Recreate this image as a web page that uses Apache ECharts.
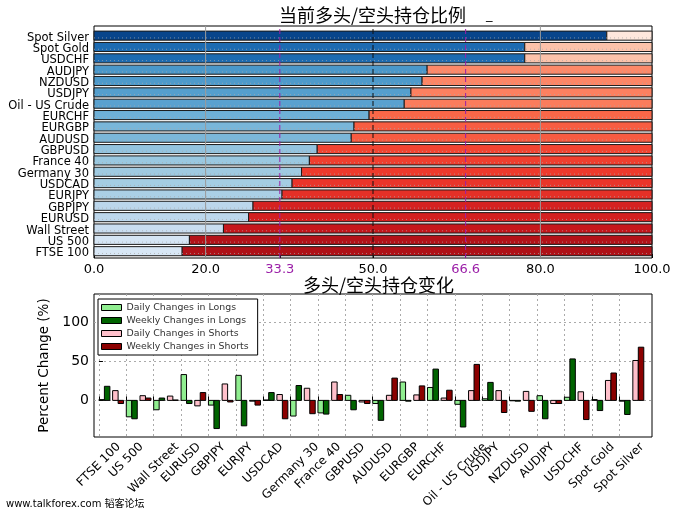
<!DOCTYPE html>
<html><head><meta charset="utf-8">
<script src="https://cdn.jsdelivr.net/npm/echarts@6/dist/echarts.min.js"></script>
<style>html,body{margin:0;padding:0;background:#fff}#c{width:680px;height:515px}</style>
</head><body><div id="c"></div>
<script>
// ---- data ----
const ratioCategories = ['FTSE 100','US 500','Wall Street','EURUSD','GBPJPY','EURJPY','USDCAD','Germany 30','France 40','GBPUSD','AUDUSD','EURGBP','EURCHF','Oil - US Crude','USDJPY','NZDUSD','AUDJPY','USDCHF','Spot Gold','Spot Silver'];
const longPct  = [15.8,17.1,23.2,27.7,28.5,33.7,35.5,37.2,38.6,40.0,46.1,46.6,49.3,55.6,56.8,58.8,59.7,77.2,77.2,91.9];
const shortPct = [84.2,82.9,76.8,72.3,71.5,66.3,64.5,62.8,61.4,60.0,53.9,53.4,50.7,44.4,43.2,41.2,40.3,22.8,22.8,8.1];
const ratioTickLabels = [0, 20, 33.3, 50, 66.6, 80, 100];

const changeCategories = ['FTSE 100','US 500','Wall Street','EURUSD','GBPJPY','EURJPY','USDCAD','Germany 30','France 40','GBPUSD','AUDUSD','EURGBP','EURCHF','Oil - US Crude','USDJPY','NZDUSD','AUDJPY','USDCHF','Spot Gold','Spot Silver'];
const dailyLongs   = [1, -21, -12, 33, -6, 32, 0.5, -20, -16, 6.5, -4, 23.5, 16.5, -5, 2, -0.5, 6, 4, 1, -1];
const weeklyLongs  = [18, -23.5, 3, -4, -36, -32.5, 10, 19, -17.5, -12, -25.5, -1, 40, -34, 23, -1, -23.5, 53, -13, -18];
const dailyShorts  = [12.5, 6, 5.5, -7, 21, -1, 7.5, 15.5, 23.5, -2, 6.5, 7, 3, 12.5, 12.5, 11.5, -4, 11, 25.5, 51];
const weeklyShorts = [-4, 3, 0.5, 10, -2, -6, -23.5, -17, 7.5, -4, 28.5, 18.5, 13, 46, -15.5, -14, -4, -24.5, 35, 68];
const changeTickLabels = [0, 50, 100];

// ---- styling helpers ----
const BLUES = ['#f7fbff','#deebf7','#c6dbef','#9ecae1','#6baed6','#4292c6','#2171b5','#08519c','#08306b'];
const REDS  = ['#fff5f0','#fee0d2','#fcbba1','#fc9272','#fb6a4a','#ef3b2c','#cb181d','#a50f15','#67000d'];
function hex2rgb(h){return [parseInt(h.substr(1,2),16),parseInt(h.substr(3,2),16),parseInt(h.substr(5,2),16)];}
function cmap(stops,t){
  t=Math.max(0,Math.min(1,t));
  const p=t*(stops.length-1), k=Math.min(Math.floor(p),stops.length-2), f=p-k;
  const a=hex2rgb(stops[k]), b=hex2rgb(stops[k+1]);
  return 'rgb('+a.map((v,j)=>Math.round(v+(b[j]-v)*f)).join(',')+')';
}
const FONT='"DejaVu Sans", sans-serif';
const CJK='"Noto Sans CJK SC", sans-serif';

// bottom chart geometry
const G2 = {left:94, right:28, top:294, bottom:78};
const X2_MIN=-0.18, X2_MAX=20.2;
const unitPx=(680-G2.left-G2.right)/(X2_MAX-X2_MIN);
const LABEL_FS=12;
const mctx=document.createElement('canvas').getContext('2d');
mctx.font=LABEL_FS+'px "DejaVu Sans"';
const labelPos=changeCategories.map((c,i)=>i+mctx.measureText(c).width*0.3536/unitPx);
function nearestIdx(arr,v){let b=0,d=1e9;arr.forEach((a,i)=>{const e=Math.abs(a-v);if(e<d){d=e;b=i;}});return b;}

// top chart: label slots, with empty guard slots at both ends
const Y1_MAX=20.45;
const ratioLabelPos=ratioCategories.map((c,i)=>i+0.42);
const ratioLabelSlots=[0.01].concat(ratioLabelPos,[Y1_MAX-0.01]);
const ratioLabelText=[''].concat(ratioCategories,['']);
const ratioTickPos=ratioCategories.map((c,i)=>i+0.4);

const chart=echarts.init(document.getElementById('c'),null,{renderer:'canvas'});

function changeSeries(name,data,offset,color){
  return {
    type:'custom', name, xAxisIndex:1, yAxisIndex:1,
    itemStyle:{color, borderColor:'#000', borderWidth:1},
    data:data.map((v,i)=>[i,v]),
    encode:{x:0,y:1},
    renderItem(params,api){
      const i=api.value(0), v=api.value(1);
      const p0=api.coord([i+offset,0]), p1=api.coord([i+offset+0.2,v]);
      return {type:'rect',
        shape:{x:p0[0],y:Math.min(p0[1],p1[1]),width:p1[0]-p0[0],height:Math.abs(p1[1]-p0[1])},
        style:{fill:color,stroke:'#000',lineWidth:1}};
    }
  };
}

const vLines=[{x:20,c:'#9a9a9a',d:'solid'},{x:80,c:'#9a9a9a',d:'solid'},{x:50,c:'#111',d:[5,3]},{x:33.3,c:'#9b1fa8',d:[5,3]},{x:66.6,c:'#9b1fa8',d:[5,3]}];

const option={
  animation:false,
  backgroundColor:'#fff',
  title:[
    {text:'当前多头/空头持仓比例', left:279, top:6, padding:0, textStyle:{fontFamily:CJK,fontSize:18,fontWeight:'normal',color:'#000'}},
    {text:'多头/空头持仓变化', left:303, top:276, padding:0, textStyle:{fontFamily:CJK,fontSize:18,fontWeight:'normal',color:'#000'}}
  ],
  graphic:[
    {type:'text', left:486, top:9, style:{text:'_', font:'13px '+FONT, fill:'#000'}},
    {type:'text', left:6, top:499, style:{text:'www.talkforex.com 韬客论坛', font:'10px "DejaVu Sans","Noto Sans CJK SC",sans-serif', fill:'#000'}}
  ],
  legend:{
    orient:'vertical', left:98, top:299, padding:[3,9,3,3], itemGap:2,
    itemWidth:20, itemHeight:6, backgroundColor:'#fff', borderColor:'#000', borderWidth:1, borderRadius:0,
    textStyle:{fontFamily:FONT,fontSize:9.4,color:'#333',lineHeight:11},
    data:[
      {name:'Daily Changes in Longs', icon:'rect', itemStyle:{color:'#90ee90',borderColor:'#000',borderWidth:1}},
      {name:'Weekly Changes in Longs', icon:'rect', itemStyle:{color:'#006400',borderColor:'#000',borderWidth:1}},
      {name:'Daily Changes in Shorts', icon:'rect', itemStyle:{color:'#ffc0cb',borderColor:'#000',borderWidth:1}},
      {name:'Weekly Changes in Shorts', icon:'rect', itemStyle:{color:'#8b0000',borderColor:'#000',borderWidth:1}}
    ]
  },
  grid:[
    {left:94, right:28, top:26, bottom:257, show:true, borderColor:'#000', borderWidth:1, backgroundColor:'#fff'},
    {left:G2.left, right:G2.right, top:G2.top, bottom:G2.bottom, show:true, borderColor:'#000', borderWidth:1, backgroundColor:'#fff'}
  ],
  xAxis:[
    {type:'value', gridIndex:0, min:0, max:100,
      axisLine:{show:false}, splitLine:{show:false},
      axisTick:{show:true, inside:true, length:4, customValues:ratioTickLabels, lineStyle:{color:'#000'}},
      axisLabel:{customValues:ratioTickLabels, showMinLabel:true, showMaxLabel:true, hideOverlap:false, margin:5, fontFamily:FONT, fontSize:13, color:'#000',
        formatter:v=>{const s=v.toFixed(1);return (Math.abs(v-33.3)<1e-6||Math.abs(v-66.6)<1e-6)?'{p|'+s+'}':s;},
        rich:{p:{color:'#9b1fa8',fontFamily:FONT,fontSize:13}}}},
    {type:'value', gridIndex:1, min:X2_MIN, max:X2_MAX,
      axisLine:{show:false},
      splitLine:{show:true, lineStyle:{color:'#aaa', type:[2,3], width:1}},
      axisTick:{show:true, inside:true, length:4, customValues:changeCategories.map((c,i)=>i), lineStyle:{color:'#000'}},
      axisLabel:{customValues:labelPos, showMinLabel:true, showMaxLabel:true, hideOverlap:false, rotate:45, margin:8, fontFamily:FONT, fontSize:LABEL_FS, color:'#000',
        formatter:v=>changeCategories[nearestIdx(labelPos,v)]}}
  ],
  yAxis:[
    {type:'value', gridIndex:0, min:0, max:Y1_MAX,
      axisLine:{show:false}, splitLine:{show:false},
      axisTick:{show:true, inside:true, length:4, customValues:ratioTickPos, lineStyle:{color:'#000'}},
      axisLabel:{customValues:ratioLabelSlots, hideOverlap:false, margin:5, fontFamily:FONT, fontSize:11.5, color:'#000',
        formatter:v=>ratioLabelText[nearestIdx(ratioLabelSlots,v)]}},
    {type:'value', gridIndex:1, min:-46.8, max:136,
      name:'Percent Change (%)', nameLocation:'middle', nameGap:29,
      nameTextStyle:{fontFamily:FONT, fontSize:13.5, color:'#000'},
      axisLine:{show:false},
      splitLine:{show:true, lineStyle:{color:'#aaa', type:[2,3], width:1}},
      axisTick:{show:true, inside:true, length:4, customValues:changeTickLabels, lineStyle:{color:'#000'}},
      axisLabel:{customValues:changeTickLabels, showMinLabel:true, showMaxLabel:true, margin:5, fontFamily:FONT, fontSize:14, color:'#000'}}
  ],
  series:[
    {type:'custom', name:'ratio', xAxisIndex:0, yAxisIndex:0,
      data:ratioCategories.map((c,i)=>[i,longPct[i],shortPct[i]]),
      encode:{x:1,y:0},
      renderItem(params,api){
        const i=api.value(0), l=api.value(1), s=api.value(2);
        const a=api.coord([0,i+1.0]), b=api.coord([l,i+0.2]), e=api.coord([l+s,i+0.2]);
        return {type:'group',children:[
          {type:'rect',shape:{x:a[0],y:a[1],width:b[0]-a[0],height:b[1]-a[1]},style:{fill:cmap(BLUES,l/100),stroke:'#1a1a1a',lineWidth:1}},
          {type:'rect',shape:{x:b[0],y:a[1],width:e[0]-b[0],height:b[1]-a[1]},style:{fill:cmap(REDS,s/100),stroke:'#1a1a1a',lineWidth:1}}
        ]};
      }},
    {type:'custom', name:'hgrid', xAxisIndex:0, yAxisIndex:0, silent:true, z:3,
      data:ratioTickPos.map(v=>[v]),
      encode:{y:0},
      renderItem(params,api){
        const y=api.value(0); const p0=api.coord([0,y]), p1=api.coord([100,y]);
        return {type:'line',shape:{x1:p0[0],y1:p0[1],x2:p1[0],y2:p1[1]},style:{stroke:'rgba(170,170,170,0.7)',lineWidth:1,lineDash:[1,3]}};
      }},
    {type:'custom', name:'vlines', xAxisIndex:0, yAxisIndex:0, silent:true, z:4,
      data:vLines.map((o,k)=>[o.x,k]),
      encode:{x:0},
      renderItem(params,api){
        const x=api.value(0), o=vLines[api.value(1)];
        const p0=api.coord([x,0]), p1=api.coord([x,Y1_MAX]);
        return {type:'line',shape:{x1:p0[0],y1:p0[1],x2:p1[0],y2:p1[1]},style:{stroke:o.c,lineWidth:1,lineDash:o.d==='solid'?null:o.d}};
      }},
    changeSeries('Daily Changes in Longs', dailyLongs, 0, '#90ee90'),
    changeSeries('Weekly Changes in Longs', weeklyLongs, 0.2, '#006400'),
    changeSeries('Daily Changes in Shorts', dailyShorts, 0.5, '#ffc0cb'),
    changeSeries('Weekly Changes in Shorts', weeklyShorts, 0.7, '#8b0000')
  ]
};
chart.setOption(option);
</script>
</body></html>
